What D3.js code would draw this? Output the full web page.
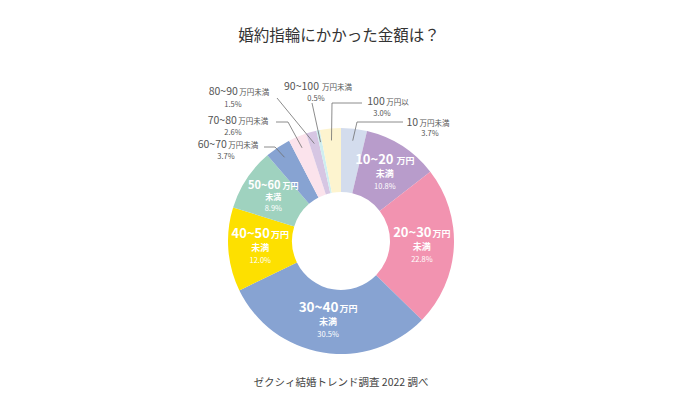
<!DOCTYPE html>
<html><head><meta charset="utf-8">
<script src="https://cdn.jsdelivr.net/npm/d3@7"></script>
<style>
html,body{margin:0;padding:0;background:#fff;}
svg{display:block;font-family:"Noto Sans CJK JP","Noto Sans",sans-serif;}
</style></head>
<body><svg id="c" width="680" height="414"></svg>
<script>
// ---- data ----
const rangeLabels = ["10", "10~20", "20~30", "30~40", "40~50", "50~60", "60~70", "70~80", "80~90", "90~100", "100"];
const unitLabels = ["万円未満", "万円", "万円", "万円", "万円", "万円", "万円未満", "万円未満", "万円未満", "万円未満", "万円以"];
const shares = [3.7, 10.8, 22.8, 30.5, 12.0, 8.9, 3.7, 2.6, 1.5, 0.5, 3.0];
const colors = ["#d3dced", "#b89ccb", "#f293b0", "#87a3d2", "#fde000", "#9fd2bf", "#87a3d2", "#fbe3ec", "#d6c6e3", "#cfeef0", "#fdf4cf"];
const insideIdx = [1, 2, 3, 4, 5];
const titleText = "婚約指輪にかかった金額は？";
const sourceText = "ゼクシィ結婚トレンド調査 2022 調べ";

// ---- layout (annotation placement) ----
const W = 680, H = 414;
const cx = 341, cy = 241, rOuter = 113, rInner = 49, rLead = 101;
const insideStyle = {
  1: {main: 13, unit: 9, gap: 3, y: [-9, 4, 16]},
  2: {main: 13, unit: 9, gap: 1, y: [-9, 4, 16]},
  3: {main: 13.5, unit: 9, gap: 1, y: [-9, 4, 16]},
  4: {main: 13, unit: 9, gap: 1, y: [-9, 4, 16]},
  5: {main: 11, unit: 8, gap: 2, y: [-8, 3.5, 14.5]}
};
const callouts = {
  0:  {tx: 428, ty: 126, px: 430, py: 136, elbow: [[403, 122], [357, 122]]},
  10: {tx: 388, ty: 105, px: 382, py: 116, elbow: [[362, 103], [332, 103]]},
  9:  {tx: 318, ty: 89.5, px: 316, py: 101, elbow: [[312, 103]]},
  8:  {tx: 239, ty: 95,  px: 233, py: 107, elbow: [[277, 98]]},
  7:  {tx: 238, ty: 123.5, px: 233, py: 135, elbow: [[276, 122], [288, 122]]},
  6:  {tx: 228, ty: 148, px: 226, py: 159, elbow: [[264, 147], [275, 147]]}
};

const data = shares.map((v, i) => ({i, range: rangeLabels[i], unit: unitLabels[i], value: v, color: colors[i]}));

const svg = d3.select("#c");
svg.append("rect").attr("width", W).attr("height", H).attr("fill", "#fff");

svg.append("text").attr("x", 339).attr("y", 41).attr("text-anchor", "middle")
  .attr("font-size", 15.5).attr("fill", "#333").attr("font-weight", 400).text(titleText);

svg.append("text").attr("x", 341).attr("y", 386).attr("text-anchor", "middle")
  .attr("font-size", 10.5).attr("fill", "#444").text(sourceText);

const pie = d3.pie().sort(null).value(d => d.value).startAngle(0).endAngle(2 * Math.PI);
const arcs = pie(data);
const arc = d3.arc().innerRadius(rInner).outerRadius(rOuter);
const leadArc = d3.arc().innerRadius(rLead).outerRadius(rLead);

const g = svg.append("g").attr("transform", `translate(${cx},${cy})`);
g.selectAll("path.slice").data(arcs).join("path").attr("class", "slice")
  .attr("d", arc).attr("fill", d => d.data.color);

// inside labels
const inG = g.selectAll("g.inl").data(arcs.filter(a => insideIdx.includes(a.data.i))).join("g")
  .attr("class", "inl")
  .attr("transform", d => { const c = arc.centroid(d); return `translate(${c[0]},${c[1]})`; })
  .attr("fill", "#fff").attr("text-anchor", "middle");
const st = d => insideStyle[d.data.i];
const l1 = inG.append("text").attr("y", d => st(d).y[0]).attr("font-weight", 700);
l1.append("tspan").attr("font-size", d => st(d).main).text(d => d.data.range);
l1.append("tspan").attr("font-size", d => st(d).unit).attr("dx", d => st(d).gap).text(d => d.data.unit);
inG.append("text").attr("y", d => st(d).y[1]).attr("font-size", d => st(d).unit).attr("font-weight", 700).text("未満");
inG.append("text").attr("y", d => st(d).y[2]).attr("font-size", 7.5).text(d => d.data.value.toFixed(1) + "%");

// outside callouts
const outArcs = arcs.filter(a => callouts[a.data.i]);
const line = d3.line();
svg.selectAll("path.lead").data(outArcs).join("path").attr("class", "lead")
  .attr("d", d => {
    const c = leadArc.centroid(d);
    const pts = callouts[d.data.i].elbow.concat([[cx + c[0], cy + c[1]]]);
    return line(pts);
  })
  .attr("fill", "none").attr("stroke", "#6f6f6f").attr("stroke-width", 0.8);

const oG = svg.selectAll("g.outl").data(outArcs).join("g").attr("class", "outl")
  .attr("fill", "#555").attr("text-anchor", "middle");
const t1 = oG.append("text").attr("x", d => callouts[d.data.i].tx).attr("y", d => callouts[d.data.i].ty);
t1.append("tspan").attr("font-size", 10.5).text(d => d.data.range);
t1.append("tspan").attr("font-size", 7.5).attr("dx", d => d.data.i === 9 ? 3 : 1.5).text(d => d.data.unit);
oG.append("text").attr("x", d => callouts[d.data.i].px).attr("y", d => callouts[d.data.i].py)
  .attr("font-size", 7.5).text(d => d.data.value.toFixed(1) + "%");
</script></body></html>
